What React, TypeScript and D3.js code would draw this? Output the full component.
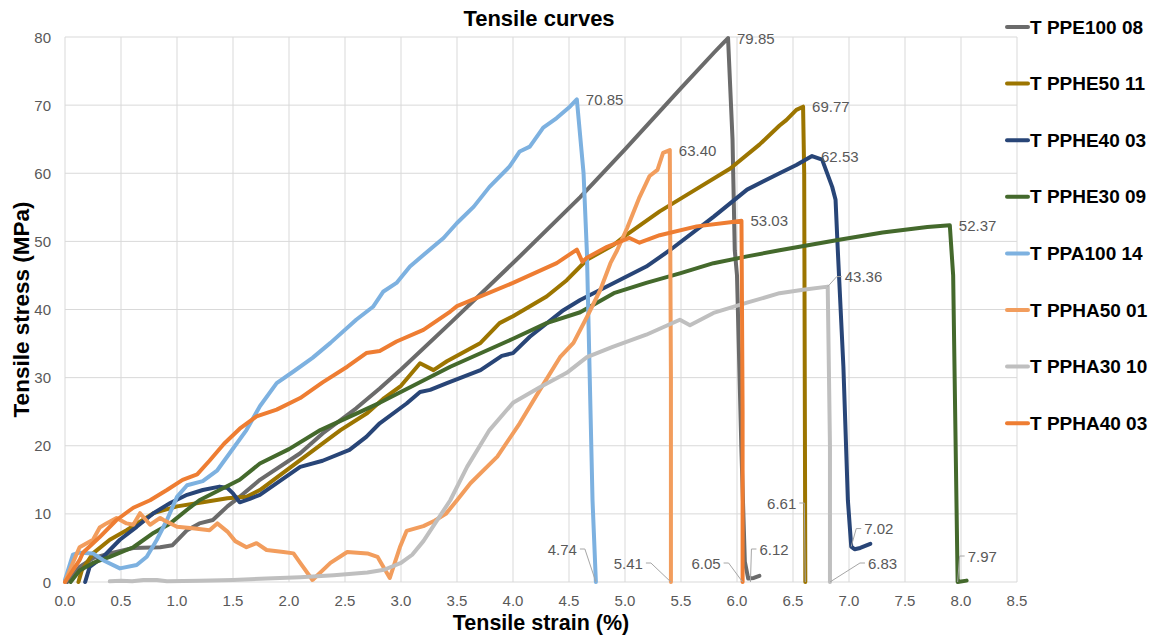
import React from "react";
import * as d3 from "d3";

type Pt = [number, number];

const title = "Tensile curves";
const xTitle = "Tensile strain (%)";
const yTitle = "Tensile stress (MPa)";
const xTicks = [0, 0.5, 1, 1.5, 2, 2.5, 3, 3.5, 4, 4.5, 5, 5.5, 6, 6.5, 7, 7.5, 8, 8.5];
const yTicks = [0, 10, 20, 30, 40, 50, 60, 70, 80];

const seriesNames = [
  "T PPE100 08",
  "T PPHE50 11",
  "T PPHE40 03",
  "T PPHE30 09",
  "T PPA100 14",
  "T PPHA50 01",
  "T PPHA30 10",
  "T PPHA40 03",
];
const seriesColors = ["#6b6b6b", "#9c7500", "#284577", "#44692c", "#7db1e0", "#f29d5d", "#bfbfbf", "#ee7d32"];

const ppe100_08: Pt[] = [
  [0.02, 0], [0.13, 2.2], [0.25, 3.5], [0.4, 4.2], [0.61, 5.0], [0.85, 5.1], [0.96, 5.4], [1.09, 7.6],
  [1.2, 8.6], [1.32, 9.1], [1.45, 11.1], [1.56, 12.5], [1.74, 15.0], [2.1, 18.9], [2.3, 21.8], [2.6, 25.5],
  [2.81, 28.4], [3.0, 31.2], [3.44, 38.0], [4.03, 47.3], [4.6, 56.5], [5.0, 63.5], [5.5, 72.5], [5.8, 77.8],
  [5.87, 79.0], [5.92, 79.85], [5.96, 65], [5.98, 48.7], [6.0, 45], [6.04, 19], [6.07, 3], [6.1, 0.5],
  [6.15, 0.6], [6.2, 0.9],
];
const pphe50_11: Pt[] = [
  [0.12, 0], [0.15, 1.7], [0.25, 4.2], [0.4, 6.2], [0.55, 7.6], [0.79, 10.1], [1.0, 11.1], [1.23, 11.7],
  [1.45, 12.3], [1.62, 12.5], [1.74, 13.5], [2.1, 17.9], [2.46, 22.3], [2.7, 24.8], [2.85, 27.0], [3.0, 28.8],
  [3.17, 32.1], [3.29, 31.1], [3.41, 32.4], [3.71, 35.1], [3.88, 38.0], [4.0, 39.0], [4.3, 41.9], [4.48, 44.3],
  [4.66, 47.3], [4.9, 49.5], [5.0, 50.8], [5.31, 54.4], [5.6, 57.3], [5.94, 60.7], [6.2, 64.2], [6.38, 67.0],
  [6.44, 67.8], [6.53, 69.3], [6.59, 69.77], [6.6, 60], [6.61, 0],
];
const pphe40_03: Pt[] = [
  [0.18, 0], [0.22, 2.2], [0.34, 3.7], [0.49, 6.2], [0.64, 8.1], [0.79, 10.1], [0.94, 11.6], [1.09, 12.8],
  [1.23, 13.5], [1.38, 14.0], [1.45, 13.8], [1.5, 13.0], [1.56, 11.7], [1.65, 12.2], [1.74, 12.8], [2.1, 16.9],
  [2.3, 17.8], [2.54, 19.4], [2.69, 21.3], [2.81, 23.3], [3.05, 26.2], [3.17, 27.9], [3.26, 28.2], [3.41, 29.2],
  [3.71, 31.1], [3.9, 33.2], [4.0, 33.6], [4.15, 36.0], [4.45, 39.9], [4.6, 41.4], [4.9, 43.9], [5.19, 46.3],
  [5.4, 48.7], [5.79, 53.6], [6.09, 57.6], [6.38, 60.0], [6.53, 61.2], [6.67, 62.53], [6.76, 62.0],
  [6.85, 58.0], [6.88, 56.1], [6.9, 48.7], [6.95, 31.6], [6.99, 12], [7.02, 5.2], [7.05, 4.8], [7.1, 5.0],
  [7.19, 5.6],
];
const pphe30_09: Pt[] = [
  [0.05, 0], [0.13, 1.7], [0.25, 2.8], [0.4, 3.7], [0.61, 5.1], [0.79, 7.2], [0.94, 8.6], [1.09, 10.6],
  [1.2, 12.0], [1.38, 13.5], [1.56, 15.0], [1.74, 17.4], [2.0, 19.5], [2.28, 22.3], [2.81, 26.3], [3.44, 31.6],
  [4.0, 35.7], [4.3, 38.0], [4.6, 39.6], [4.9, 42.4], [5.19, 43.9], [5.49, 45.3], [5.79, 46.8], [6.09, 47.8],
  [6.38, 48.7], [6.9, 50.2], [7.3, 51.3], [7.7, 52.1], [7.9, 52.37], [7.93, 45], [7.97, 0], [8.05, 0.2],
];
const ppa100_14: Pt[] = [
  [0, 0.3], [0.07, 4.0], [0.13, 4.3], [0.25, 4.2], [0.34, 3.2], [0.49, 2.0], [0.64, 2.5], [0.73, 3.7],
  [0.82, 6.2], [0.91, 9.1], [1.0, 12.5], [1.09, 14.2], [1.23, 14.8], [1.36, 16.4], [1.47, 18.9], [1.62, 22.3],
  [1.74, 25.8], [1.89, 29.2], [2.04, 30.9], [2.21, 32.9], [2.37, 35.1], [2.6, 38.5], [2.75, 40.4], [2.84, 42.6],
  [2.96, 43.9], [3.08, 46.3], [3.2, 48.0], [3.38, 50.5], [3.5, 52.7], [3.65, 55.1], [3.79, 58.0], [3.97, 61.0],
  [4.06, 63.2], [4.15, 63.9], [4.27, 66.7], [4.39, 68.1], [4.51, 69.8], [4.57, 70.85], [4.63, 60], [4.66, 48.3],
  [4.71, 12], [4.74, 0],
];
const ppha50_01: Pt[] = [
  [0, 0], [0.07, 2.8], [0.13, 5.1], [0.25, 6.2], [0.31, 8.0], [0.37, 8.6], [0.46, 9.4], [0.55, 8.6],
  [0.61, 8.4], [0.67, 10.1], [0.76, 8.4], [0.85, 9.4], [0.88, 9.1], [1.0, 8.1], [1.14, 7.9], [1.29, 7.6],
  [1.36, 8.6], [1.45, 7.4], [1.52, 6.0], [1.62, 5.1], [1.71, 5.7], [1.8, 4.7], [1.95, 4.4], [2.04, 4.2],
  [2.1, 2.8], [2.21, 0.3], [2.37, 2.8], [2.52, 4.4], [2.7, 4.2], [2.79, 3.7], [2.9, 0.6], [2.99, 5.1],
  [3.05, 7.5], [3.2, 8.2], [3.3, 9.0], [3.4, 10.0], [3.5, 12.0], [3.62, 14.5], [3.86, 18.4], [4.06, 23.3],
  [4.24, 28.2], [4.42, 33.0], [4.54, 35.1], [4.66, 38.9], [4.78, 42.9], [4.87, 46.8], [4.93, 48.7], [5.02, 52.0],
  [5.13, 56.5], [5.22, 59.6], [5.29, 60.5], [5.34, 63.0], [5.4, 63.4], [5.41, 30], [5.41, 0],
];
const ppha30_10: Pt[] = [
  [0.4, 0.1], [0.5, 0.2], [0.6, 0.1], [0.7, 0.3], [0.82, 0.3], [0.91, 0.1], [1.2, 0.2], [1.5, 0.3],
  [1.8, 0.5], [2.1, 0.7], [2.4, 1.0], [2.7, 1.4], [2.85, 1.8], [3.0, 2.8], [3.1, 4.0], [3.2, 6.0],
  [3.3, 8.5], [3.44, 12.0], [3.59, 16.9], [3.79, 22.3], [4.0, 26.3], [4.24, 28.6], [4.48, 30.7], [4.66, 33.0],
  [4.89, 34.5], [5.19, 36.3], [5.49, 38.5], [5.58, 37.7], [5.79, 39.5], [6.09, 41.0], [6.38, 42.4], [6.59, 42.9],
  [6.81, 43.36], [6.83, 20], [6.83, 0],
];
const ppha40_03: Pt[] = [
  [0, 0], [0.13, 3.2], [0.16, 4.3], [0.31, 6.6], [0.46, 9.1], [0.61, 10.9], [0.76, 12.0], [0.91, 13.5],
  [1.05, 15.0], [1.18, 15.8], [1.29, 17.8], [1.42, 20.3], [1.56, 22.5], [1.71, 24.3], [1.89, 25.3], [2.1, 27.0],
  [2.3, 29.3], [2.52, 31.6], [2.69, 33.6], [2.81, 33.9], [2.96, 35.3], [3.2, 37.0], [3.44, 39.7], [3.5, 40.5],
  [4.0, 43.9], [4.39, 46.8], [4.57, 48.8], [4.62, 47.0], [4.66, 47.6], [4.84, 49.2], [5.04, 50.5], [5.13, 49.8],
  [5.31, 50.9], [5.64, 52.2], [5.94, 52.8], [6.04, 53.03], [6.05, 25], [6.05, 0],
];

const seriesData = [ppe100_08, pphe50_11, pphe40_03, pphe30_09, ppa100_14, ppha50_01, ppha30_10, ppha40_03];

// Peak labels: text, data point
const peakLabels: { t: string; x: number; y: number }[] = [
  { t: "79.85", x: 5.92, y: 79.85 },
  { t: "70.85", x: 4.57, y: 70.85 },
  { t: "69.77", x: 6.59, y: 69.77 },
  { t: "63.40", x: 5.4, y: 63.4 },
  { t: "62.53", x: 6.67, y: 62.53 },
  { t: "53.03", x: 6.04, y: 53.03 },
  { t: "52.37", x: 7.9, y: 52.37 },
];

// Break labels with leader lines: text, data point, label offset (px), side
const breakLabels: { t: string; x: number; y: number; dx: number; dy: number; side: "left" | "right" }[] = [
  { t: "43.36", x: 6.81, y: 43.36, dx: 14, dy: -10, side: "right" },
  { t: "4.74", x: 4.74, y: 0, dx: -16, dy: -33, side: "left" },
  { t: "5.41", x: 5.41, y: 0, dx: -25, dy: -19, side: "left" },
  { t: "6.05", x: 6.05, y: 0, dx: -19, dy: -19, side: "left" },
  { t: "6.12", x: 6.12, y: 0, dx: 6, dy: -33, side: "right" },
  { t: "6.61", x: 6.61, y: 0, dx: -6, dy: -79, side: "left" },
  { t: "7.02", x: 7.02, y: 5.2, dx: 10, dy: -18, side: "right" },
  { t: "6.83", x: 6.83, y: 0, dx: 35, dy: -19, side: "right" },
  { t: "7.97", x: 7.97, y: 0, dx: 7, dy: -26, side: "right" },
];

const W = 1154;
const H = 639;
const left = 65;
const right = 1017;
const top = 37;
const bottom = 582;

export default function App() {
  const x = d3.scaleLinear().domain([0, 8.5]).range([left, right]);
  const y = d3.scaleLinear().domain([0, 80]).range([bottom, top]);
  const line = d3
    .line<Pt>()
    .x((d) => x(d[0]))
    .y((d) => y(d[1]));
  const font = "'Liberation Sans', Arial, sans-serif";
  const labelColor = "#595959";
  const legendY0 = 27;
  const legendStep = 56.6;

  return (
    <svg
      width={W}
      height={H}
      style={{ position: "absolute", left: 0, top: 0, background: "#fff" }}
      fontFamily={font}
    >
      <rect x={0} y={0} width={W} height={H} fill="#fff" />
      {/* grid */}
      {xTicks.map((t) => (
        <line key={"gx" + t} x1={x(t)} x2={x(t)} y1={y(80)} y2={y(0)} stroke="#d9d9d9" strokeWidth={1} />
      ))}
      {yTicks.map((t) => (
        <line key={"gy" + t} x1={x(0)} x2={x(8.5)} y1={y(t)} y2={y(t)} stroke="#d9d9d9" strokeWidth={1} />
      ))}
      {/* tick labels */}
      {xTicks.map((t) => (
        <text key={"tx" + t} x={x(t)} y={606} fontSize={15} fill={labelColor} textAnchor="middle">
          {t.toFixed(1)}
        </text>
      ))}
      {yTicks.map((t) => (
        <text key={"ty" + t} x={51} y={y(t) + 5.5} fontSize={15} fill={labelColor} textAnchor="end">
          {t}
        </text>
      ))}
      {/* series */}
      {seriesData.map((d, i) => (
        <path
          key={"s" + i}
          d={line(d) || ""}
          fill="none"
          stroke={seriesColors[i]}
          strokeWidth={4}
          strokeLinejoin="round"
          strokeLinecap="round"
        />
      ))}
      {/* peak labels */}
      {peakLabels.map((l) => (
        <text key={"p" + l.t} x={x(l.x) + 9} y={y(l.y) + 5.5} fontSize={15} fill={labelColor}>
          {l.t}
        </text>
      ))}
      {/* break labels with leaders */}
      {breakLabels.map((l) => {
        const px = x(l.x);
        const py = y(l.y);
        const lx = px + l.dx;
        const ly = py + l.dy;
        const elbow = l.side === "left" ? lx + 5 : lx - 5;
        const tx = l.side === "left" ? lx - 3 : lx + 3;
        return (
          <g key={"b" + l.t}>
            <polyline
              points={`${lx},${ly} ${elbow},${ly} ${px},${py}`}
              fill="none"
              stroke="#a6a6a6"
              strokeWidth={1}
            />
            <text
              x={tx}
              y={ly + 5.5}
              fontSize={15}
              fill={labelColor}
              textAnchor={l.side === "left" ? "end" : "start"}
            >
              {l.t}
            </text>
          </g>
        );
      })}
      {/* titles */}
      <text x={539} y={26} fontSize={22} fontWeight="bold" textAnchor="middle" fill="#000">
        {title}
      </text>
      <text x={541} y={629.5} fontSize={21.5} fontWeight="bold" textAnchor="middle" fill="#000">
        {xTitle}
      </text>
      <text
        transform={`translate(29,${(top + bottom) / 2}) rotate(-90)`}
        fontSize={22.5}
        fontWeight="bold"
        textAnchor="middle"
        fill="#000"
      >
        {yTitle}
      </text>
      {/* legend */}
      {seriesNames.map((n, i) => {
        const ly = legendY0 + i * legendStep;
        return (
          <g key={"lg" + n}>
            <line x1={1007} x2={1028} y1={ly} y2={ly} stroke={seriesColors[i]} strokeWidth={4} strokeLinecap="round" />
            <text x={1030} y={ly + 6.5} fontSize={19} fontWeight="bold" fill="#000">
              {n}
            </text>
          </g>
        );
      })}
    </svg>
  );
}
